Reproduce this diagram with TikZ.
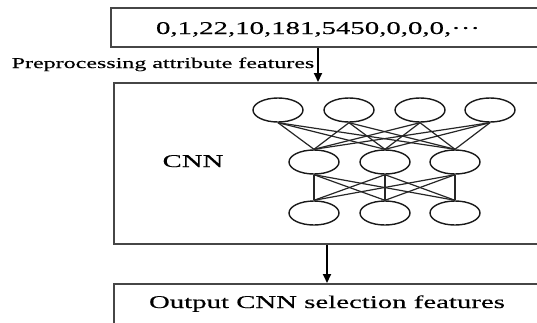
\documentclass[tikz,border=0pt]{standalone}
\usepackage{fontspec}
\setmainfont{Liberation Serif}
\newfontfamily\widefont[FakeStretch=1.6,FakeBold=0.25]{Liberation Serif}
\usetikzlibrary{shapes.geometric,arrows.meta}
\definecolor{boxgray}{RGB}{70,70,70}
\begin{document}
\begin{tikzpicture}[x=1pt,y=-1pt,
  frame/.style={draw=boxgray,line width=1.8pt,rectangle,inner sep=0pt,anchor=north west},
  neuron/.style={draw=black!90,line width=1.4pt,ellipse,minimum width=50pt,minimum height=24pt,inner sep=0pt},
  link/.style={draw=black!85,line width=1.2pt},
  flow/.style={draw=black,line width=2pt,-{Triangle[length=9pt,width=8pt]}},
  txt/.style={inner sep=0pt,anchor=base,font=\widefont\fontsize{18}{20}\selectfont},
  smalltxt/.style={inner sep=0pt,anchor=base,font=\widefont\fontsize{15}{17}\selectfont}]
\useasboundingbox (0,0) rectangle (537,322);
\clip (0,0) rectangle (537,322);

% frames (they run past the right edge)
\node[frame,minimum width=440pt,minimum height=39pt] (inbox) at (110,7) {};
\node[frame,minimum width=440pt,minimum height=161pt] (cnnbox) at (113,82) {};
\node[frame,minimum width=440pt,minimum height=50pt] (outbox) at (113,283) {};

% texts
\node[txt] (intext) at (318,34) {0,1,22,10,181,5450,0,0,0,\textperiodcentered\textperiodcentered\textperiodcentered};
\node[smalltxt] (prep) at (163,68) {Preprocessing attribute features};
\node[txt] (cnnlabel) at (193,167) {CNN};
\node[txt] (outtext) at (327,308) {Output CNN selection features};

% network
\foreach \x [count=\i] in {278,349,420,490}
  \node[neuron] (a\i) at (\x,110) {};
\foreach \x [count=\i] in {314,385,455}
  \node[neuron] (b\i) at (\x,162) {};
\foreach \x [count=\i] in {314,385,455}
  \node[neuron] (c\i) at (\x,213) {};
\foreach \i in {1,...,4}
  \foreach \j in {1,2,3}
    \draw[link] (a\i.south) -- (b\j.north);
\foreach \i in {1,2,3}
  \foreach \j in {1,2,3}
    \draw[link] (b\i.south) -- (c\j.north);

% arrows
\draw[flow] (intext |- inbox.south) -- (intext |- cnnbox.north);
\draw[flow] (outtext |- cnnbox.south) -- (outtext |- outbox.north);
\end{tikzpicture}
\end{document}
